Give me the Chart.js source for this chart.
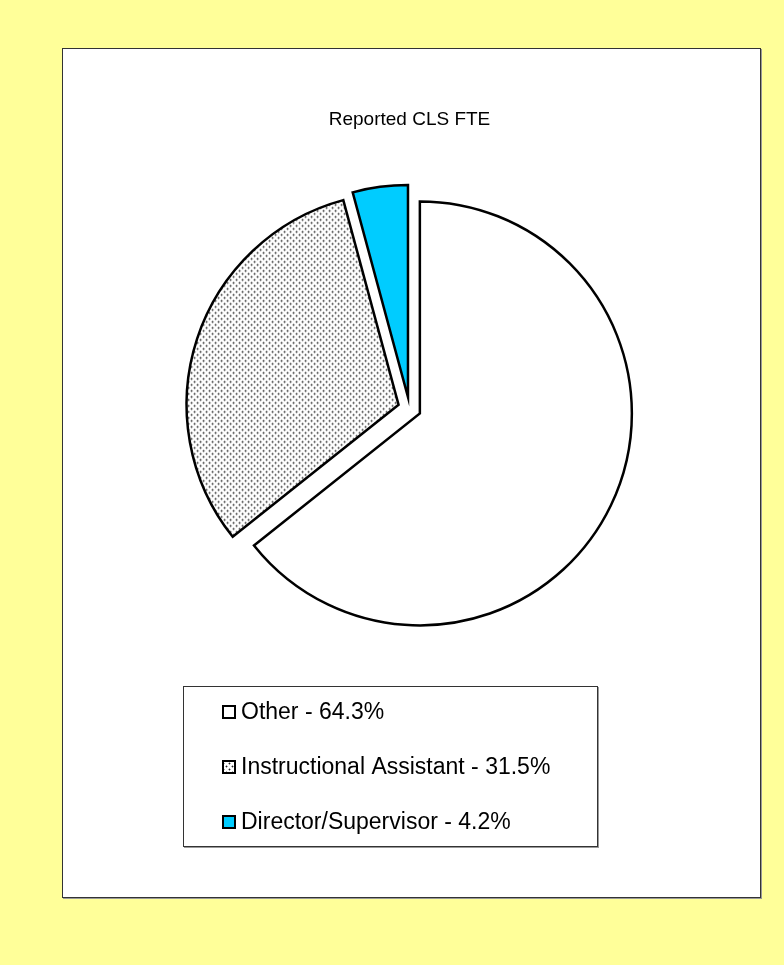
<!DOCTYPE html>
<html lang="en">
<head>
<meta charset="UTF-8">
<title>Reported CLS FTE</title>
<script src="https://cdn.jsdelivr.net/npm/chart.js"></script>
<style>
  html, body { margin: 0; padding: 0; background: #FFFF99; }
  #frame { position: absolute; left: 62px; top: 48px; width: 697px; height: 848px; background: #fff; border: 1px solid #333; box-shadow: 1px 1px 0 #999; }
  #pie { position: absolute; left: 0; top: 0; }
</style>
</head>
<body>
<div id="frame"></div>
<canvas id="pie" width="784" height="965"></canvas>
<script>
// datos
var categories = ['Other', 'Instructional Assistant', 'Director/Supervisor'];
var shares = [64.3, 31.5, 4.2];
var chartTitle = 'Reported CLS FTE';

var FONT = 'Arial, "Liberation Sans", sans-serif';

var el = document.getElementById('pie');
var mainCtx = el.getContext('2d');

// dotted fill, like the old Excel 20% pattern
function dotPattern() {
  var c = document.createElement('canvas');
  c.width = 6; c.height = 6;
  var g = c.getContext('2d');
  g.fillStyle = '#fff';
  g.fillRect(0, 0, 6, 6);
  [[1, 1], [4, 4]].forEach(function(p) {
    g.fillStyle = '#a8a8a8';
    g.fillRect(p[0] - 1, p[1], 3, 1);
    g.fillRect(p[0], p[1] - 1, 1, 3);
    g.fillStyle = '#222';
    g.fillRect(p[0], p[1], 1, 1);
  });
  return mainCtx.createPattern(c, 'repeat');
}

// pull every slice out by the same distance (chart.js offset also grows the radius)
var explode = {
  id: 'explode',
  beforeDatasetDraw: function(chart, args, o) {
    var ctx = chart.ctx;
    args.meta.data.forEach(function(arc) {
      var mid = (arc.startAngle + arc.endAngle) / 2;
      ctx.save();
      ctx.translate(Math.cos(mid) * o.distance, Math.sin(mid) * o.distance);
      arc.draw(ctx, chart.chartArea);
      ctx.restore();
    });
    return false;
  }
};

// legend in a bordered box under the pie
var boxLegend = {
  id: 'boxLegend',
  afterDraw: function(chart, args, o) {
    var ctx = chart.ctx;
    var ds = chart.data.datasets[0];
    ctx.save();
    ctx.strokeStyle = '#999';
    ctx.lineWidth = 1;
    ctx.strokeRect(o.left + 1.5, o.top + 1.5, o.width, o.height);
    ctx.fillStyle = '#fff';
    ctx.fillRect(o.left, o.top, o.width, o.height);
    ctx.strokeStyle = '#333';
    ctx.strokeRect(o.left + 0.5, o.top + 0.5, o.width, o.height);
    ctx.font = o.fontSize + 'px ' + FONT;
    ctx.textBaseline = 'middle';
    chart.data.labels.forEach(function(label, i) {
      var y = o.top + o.firstRow + i * o.rowGap;
      var x = o.left + o.markX;
      ctx.fillStyle = ds.backgroundColor[i];
      ctx.fillRect(x, y - 6, 12, 12);
      ctx.strokeStyle = '#000';
      ctx.lineWidth = 2;
      ctx.strokeRect(x, y - 6, 12, 12);
      ctx.fillStyle = '#000';
      ctx.fillText(label + ' - ' + ds.data[i].toFixed(1) + '%', o.left + o.textX, y + 1);
    });
    ctx.restore();
  }
};

new Chart(el, {
  type: 'pie',
  data: {
    labels: categories,
    datasets: [{
      data: shares,
      backgroundColor: ['#ffffff', dotPattern(), '#00CCFF'],
      borderColor: '#000',
      borderWidth: 2.5,
      borderJoinStyle: 'miter'
    }]
  },
  options: {
    responsive: false,
    animation: false,
    devicePixelRatio: 1,
    events: [],
    radius: 212,
    layout: { padding: { left: 62, right: 27, top: 48, bottom: 289 } },
    plugins: {
      legend: { display: false },
      tooltip: { enabled: false },
      title: {
        display: true,
        text: chartTitle,
        color: '#000',
        font: { family: FONT, size: 19, weight: 'normal' },
        padding: { top: 60, bottom: 10 }
      },
      explode: { distance: 11.5 },
      boxLegend: {
        left: 183, top: 686, width: 414, height: 160,
        firstRow: 26, rowGap: 55, markX: 40, textX: 58, fontSize: 23
      }
    }
  },
  plugins: [explode, boxLegend]
});
</script>
</body>
</html>
